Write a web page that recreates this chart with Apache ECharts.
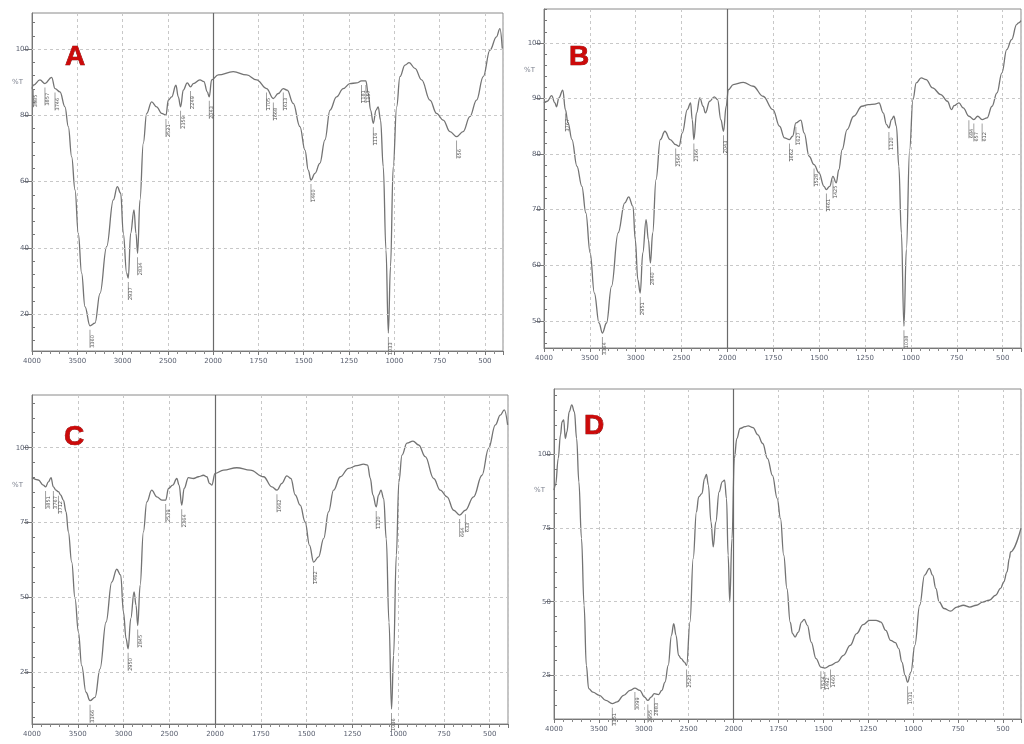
<!DOCTYPE html>
<html>
<head>
<meta charset="utf-8">
<script src="https://cdn.jsdelivr.net/npm/echarts@6/dist/echarts.min.js"></script>
<style>html,body{margin:0;padding:0;background:#fff}#c{width:1024px;height:744px}</style>
</head>
<body>
<div id="c"></div>
<script>
// x tick labels (wavenumber, cm-1) — scale changes at 2000
const xTickLabels = [4000, 3500, 3000, 2500, 2000, 1750, 1500, 1250, 1000, 750, 500];

// Panel A
const wnA = [4000,3985,3912,3857,3783,3746,3691,3636,3599,3562,3525,3489,3452,3415,3360,3305,3249,3176,3102,3058,3021,2992,2955,2937,2911,2874,2852,2834,2808,2771,2734,2679,2624,2569,2521,2495,2458,2411,2385,2359,2330,2286,2249,2219,2146,2102,2065,2043,2017,1972,1889,1815,1760,1705,1668,1641,1613,1591,1558,1521,1493,1475,1460,1438,1411,1383,1355,1319,1282,1245,1208,1181,1157,1144,1131,1116,1101,1089,1076,1061,1046,1033,1021,1006,987,969,941,918,886,849,803,767,730,693,656,620,583,546,509,472,436,417,404];
const tA  = [88.1,89.1,90.7,89.6,91.5,88.1,87.1,82.6,76.6,67.5,57.5,44.4,32.4,22.3,16.5,17.3,26.3,40.4,54.5,58.5,56.5,44.4,32.4,30.9,44.4,51.5,44.4,38.4,54.5,71.6,80.6,84.1,82.6,80.6,80.1,84.6,85.6,89.1,85.6,82.6,87.6,89.8,88.6,89.6,90.7,90.2,87.1,85.6,90.7,92.2,93.2,92.2,90.7,88.1,85.1,86.6,88.1,87.6,83.6,76.6,69.5,63.5,60.5,62.5,65.5,72.6,81.6,85.6,88.1,89.6,89.8,90.4,90.4,86.6,81.6,77.6,81.6,82.6,78.6,64.5,39.4,14.3,34.4,64.5,82.6,91.7,95.2,95.9,94.2,90.7,84.6,80.6,78.6,75.1,73.6,75.1,79.6,84.6,91.7,99.7,103.7,106.2,100.2];
const yTicksA = [20, 40, 60, 80, 100];
const yMinorA = [12,16,24,28,32,36,44,48,52,56,64,68,72,76,84,88,92,96,104,108];
const peaksA = [3985, 3857, 3746, 3360, 2937, 2834, 2521, 2359, 2249, 2043, 1705, 1668, 1613, 1460, 1181, 1157, 1116, 1033, 656];

// Panel B
const wnB = [4000,3964,3917,3881,3864,3838,3795,3767,3738,3695,3641,3587,3544,3497,3451,3400,3364,3318,3264,3192,3120,3077,3030,3005,2977,2951,2923,2887,2862,2840,2815,2779,2732,2682,2625,2564,2528,2492,2438,2402,2384,2366,2337,2301,2266,2240,2194,2144,2108,2072,2043,2014,1995,1968,1914,1860,1806,1752,1716,1689,1662,1645,1627,1600,1582,1555,1528,1501,1474,1461,1443,1425,1407,1393,1375,1348,1312,1267,1232,1196,1174,1151,1133,1120,1106,1093,1079,1066,1052,1038,1025,1007,989,971,944,917,882,837,801,779,765,738,715,684,657,636,612,585,558,531,504,478,451,424,413,400];
const tB  = [89.2,89.5,90.5,89.2,88.5,90.1,91.5,88.0,85.6,82.6,77.8,74.2,69.4,62.2,55.0,49.6,47.8,49.6,56.2,65.8,71.2,72.3,70.6,64.6,57.4,55.0,62.2,68.2,64.6,60.4,65.8,75.4,82.6,84.1,82.6,81.7,81.4,83.8,88.0,89.2,86.2,82.6,87.4,90.1,88.6,87.4,89.5,90.3,89.8,86.2,84.1,88.6,91.6,92.5,92.9,92.2,90.4,88.0,85.0,82.9,82.6,83.2,85.6,86.1,83.8,79.6,78.1,76.6,74.2,73.6,74.2,76.0,74.8,77.2,80.8,84.4,86.8,88.6,88.9,89.0,89.2,87.4,85.3,84.7,86.2,86.8,85.0,77.8,65.8,49.0,62.8,80.8,89.8,92.8,93.7,93.4,91.9,90.7,89.5,88.0,88.7,89.2,88.3,86.8,86.2,86.8,86.2,86.5,88.6,91.0,94.6,98.8,100.6,103.3,103.6,104];
const yTicksB = [50, 60, 70, 80, 90, 100];
const yMinorB = [46,48,52,54,56,58,62,64,66,68,72,74,76,78,82,84,86,88,92,94,96,98,102,104,106];
const peaksB = [3767, 3364, 2951, 2840, 2564, 2366, 2043, 1662, 1627, 1528, 1461, 1425, 1120, 1038, 684, 657, 612];

// Panel C
const wnC = [4000,3931,3876,3851,3821,3792,3767,3738,3712,3687,3657,3628,3603,3566,3530,3493,3457,3410,3366,3311,3257,3191,3129,3074,3031,3001,2972,2950,2921,2885,2863,2845,2819,2783,2746,2692,2637,2582,2539,2509,2462,2418,2393,2364,2338,2291,2236,2181,2127,2090,2061,2036,2000,1954,1881,1808,1735,1690,1662,1635,1608,1586,1562,1535,1508,1484,1462,1435,1407,1380,1353,1316,1271,1225,1189,1167,1152,1138,1120,1107,1094,1079,1065,1050,1036,1025,1010,996,979,952,919,888,852,806,770,733,697,664,633,588,542,506,469,442,420,402];
const tC  = [90.0,89.2,87.5,86.9,88.6,90.0,86.9,85.8,85.3,84.2,82.5,78.6,71.9,61.8,49.6,38.4,27.2,18.3,15.5,16.6,26.1,41.7,55.1,59.4,57.4,45.1,36.2,32.8,42.9,51.8,47.3,40.6,54.0,71.9,81.9,85.8,83.6,82.5,82.5,86.4,87.5,89.7,87.5,80.8,86.4,90.0,89.7,90.3,90.8,90.3,88.1,87.5,91.4,92.5,93.3,92.5,90.3,86.9,85.8,88.1,90.6,89.7,84.2,80.8,75.2,67.4,61.8,63.5,69.6,78.6,85.8,90.3,93.1,94.0,94.5,94.2,89.7,84.2,80.2,84.2,85.8,83.0,69.6,41.7,12.7,30.6,64.1,88.6,97.5,101.5,102.2,100.9,97.0,89.7,85.8,83.6,79.1,77.5,79.1,83.6,90.8,99.8,107.6,110.9,112.6,107.6];
const yTicksC = [25, 50, 75, 100];
const yMinorC = [10,15,20,30,35,40,45,55,60,65,70,80,85,90,95,105,110,115];
const peaksC = [3851, 3767, 3712, 3366, 2950, 2845, 2539, 2364, 1662, 1462, 1120, 1036, 664, 633];

// Panel D
const wnD = [4000,3982,3953,3928,3910,3892,3874,3856,3831,3802,3773,3748,3723,3694,3665,3640,3614,3568,3495,3423,3351,3297,3225,3153,3099,3045,2991,2955,2919,2883,2836,2800,2764,2728,2692,2667,2641,2613,2584,2548,2523,2486,2450,2414,2389,2353,2324,2303,2281,2252,2227,2198,2162,2126,2101,2079,2061,2043,2018,1996,1982,1964,1937,1919,1892,1865,1838,1811,1784,1757,1739,1721,1703,1685,1672,1658,1640,1622,1607,1589,1568,1541,1514,1492,1460,1424,1388,1351,1315,1279,1243,1207,1180,1153,1126,1099,1081,1063,1045,1031,1013,991,964,937,910,892,874,856,829,793,757,721,685,649,613,577,541,514,496,478,465,458,400];
const tD  = [87.9,89.6,98.6,106.6,111.1,111.7,105.4,107.6,114.5,116.8,114.5,105.4,90.7,71.5,48.8,28.4,20.5,19.3,18.2,16.5,15.4,16.0,18.2,19.9,20.7,19.9,17.6,16.5,17.6,18.8,18.5,19.9,22.7,28.4,38.6,42.6,38.6,31.8,30.7,29.5,28.4,43.1,64.7,80.5,85.6,86.7,91.8,93.2,89.6,77.1,68.6,77.1,87.3,90.7,91.3,85.0,65.8,49.9,71.5,98.6,105.4,108.8,109.4,109.7,109.1,106.6,103.7,98.6,92.9,85.0,78.2,65.8,54.4,43.1,39.2,38.0,39.7,43.1,44.0,42.0,36.3,30.7,27.8,27.5,28.4,29.5,31.8,35.2,39.2,42.2,43.7,43.7,43.1,40.3,36.9,36.1,34.1,29.5,25.0,22.7,26.1,35.2,48.8,59.0,61.3,59.0,54.5,50.0,47.7,46.8,48.2,48.8,48.2,48.8,49.9,50.5,52.2,54.5,56.7,60.1,64.7,66.9,75];
const yTicksD = [25, 50, 75, 100];
const yMinorD = [15,20,30,35,40,45,55,60,65,70,80,85,90,95,105,110,115,120];
const peaksD = [3351, 3099, 2955, 2883, 2523, 1514, 1492, 1460, 1031];

// map wavenumber to the instrument's split axis (x2 expansion below 2000)
function toU(w) { return w >= 2000 ? (4000 - w) / 500 : 4 + (2000 - w) / 250; }
function pairs(wn, t) { return wn.map((w, i) => [toU(w), t[i]]); }

const panels = [
  { id: 'A', wn: wnA, t: tA, peaks: peaksA, yMin: 8.9, yMax: 110.9, major: yTicksA, minor: yMinorA,
    grid: { left: 32, top: 13, width: 471, height: 338 }, letter: [75, 57], pctT: 90 },
  { id: 'B', wn: wnB, t: tB, peaks: peaksB, yMin: 45.1, yMax: 106.1, major: yTicksB, minor: yMinorB,
    grid: { left: 544, top: 9, width: 483, height: 339 }, letter: [579, 57], pctT: 95 },
  { id: 'C', wn: wnC, t: tC, peaks: peaksC, yMin: 7.7, yMax: 117.6, major: yTicksC, minor: yMinorC,
    grid: { left: 32, top: 395, width: 476, height: 329 }, letter: [74, 437], pctT: 87.5 },
  { id: 'D', wn: wnD, t: tD, peaks: peaksD, yMin: 10.2, yMax: 122.2, major: yTicksD, minor: yMinorD,
    grid: { left: 554, top: 389, width: 481, height: 330 }, letter: [594, 426], pctT: 88 }
];

const labelColor = '#5a6070';
const grids = [], xAxes = [], yAxes = [], series = [], graphics = [];
panels.forEach((p, i) => {
  grids.push(Object.assign({ show: true, borderColor: '#8a8a8a', borderWidth: 1, backgroundColor: '#fff' }, p.grid));
  xAxes.push({
    type: 'value', gridIndex: i, min: 0, max: 10.4, interval: 1,
    axisLine: { show: true, onZero: false, lineStyle: { color: '#777', width: 1 } },
    axisTick: { show: true, length: 4, lineStyle: { color: '#777' } },
    minorTick: { show: true, splitNumber: 5, length: 3, lineStyle: { color: '#888' } },
    axisLabel: { fontSize: 7, color: labelColor, margin: 7, fontFamily: 'DejaVu Sans',
      formatter: v => { const r = Math.round(v); return Math.abs(v - r) < 1e-6 && r <= 10 ? String(xTickLabels[r]) : ''; } },
    splitLine: { show: true, lineStyle: { color: '#c8c8c8', type: [3, 3], width: 1 } }
  });
  yAxes.push({
    type: 'value', gridIndex: i, min: p.yMin, max: p.yMax,
    axisLine: { show: true, onZero: false, lineStyle: { color: '#777' } },
    axisTick: { show: true, length: 8, customValues: p.major, lineStyle: { color: '#777' } },
    axisLabel: { fontSize: 7, color: labelColor, margin: 3, fontFamily: 'DejaVu Sans', customValues: p.major },
    splitLine: { show: false }
  });
  yAxes.push({
    type: 'value', gridIndex: i, min: p.yMin, max: p.yMax,
    axisLine: { show: false },
    axisTick: { show: true, length: 3, customValues: p.minor, lineStyle: { color: '#777' } },
    axisLabel: { show: false },
    splitLine: { show: false }
  });
  const peakMarks = p.peaks.map(w => {
    const k = p.wn.indexOf(w);
    return { coord: [toU(w), p.t[k]], value: w };
  });
  series.push({
    type: 'line', xAxisIndex: i, yAxisIndex: 2 * i, data: pairs(p.wn, p.t),
    showSymbol: false, smooth: 0.4, smoothMonotone: 'x',
    lineStyle: { color: '#737373', width: 1.3 },
    silent: true, z: 3,
    markLine: {
      silent: true, symbol: ['none', 'none'], label: { show: false }, animation: false,
      data: p.major.map(v => ({ yAxis: v, lineStyle: { color: '#c8c8c8', type: [3, 3], width: 1 } }))
        .concat([{ xAxis: 4, lineStyle: { color: '#6a6a6a', type: 'solid', width: 1.2 } }])
    },
    markPoint: {
      silent: true, animation: false,
      symbol: 'rect', symbolSize: [0.8, 18], symbolOffset: [0, 13],
      itemStyle: { color: '#8a8a8a' },
      label: { show: true, formatter: d => String(d.value), rotate: 90, fontSize: 5, color: '#555',
        fontFamily: 'DejaVu Sans', position: [3, 18], align: 'left', verticalAlign: 'middle' },
      data: peakMarks
    }
  });
  series.push({
    type: 'scatter', xAxisIndex: i, yAxisIndex: 2 * i, data: [[0, p.pctT]], symbolSize: 0, silent: true,
    label: { show: true, formatter: '%T', position: 'left', distance: 9, fontSize: 7, color: labelColor, fontFamily: 'DejaVu Sans' }
  });
  graphics.push({
    type: 'text', x: p.letter[0], y: p.letter[1], z: 100,
    style: { text: p.id, fill: '#cc0a0a', stroke: '#7a0000', lineWidth: 0.7, font: 'bold 28px "Liberation Sans", Arial, sans-serif', textAlign: 'center', textVerticalAlign: 'middle' }
  });
});

const chart = echarts.init(document.getElementById('c'), null, { renderer: 'canvas' });
chart.setOption({
  animation: false,
  backgroundColor: '#fff',
  grid: grids, xAxis: xAxes, yAxis: yAxes, series: series, graphic: graphics
});
</script>
</body>
</html>
